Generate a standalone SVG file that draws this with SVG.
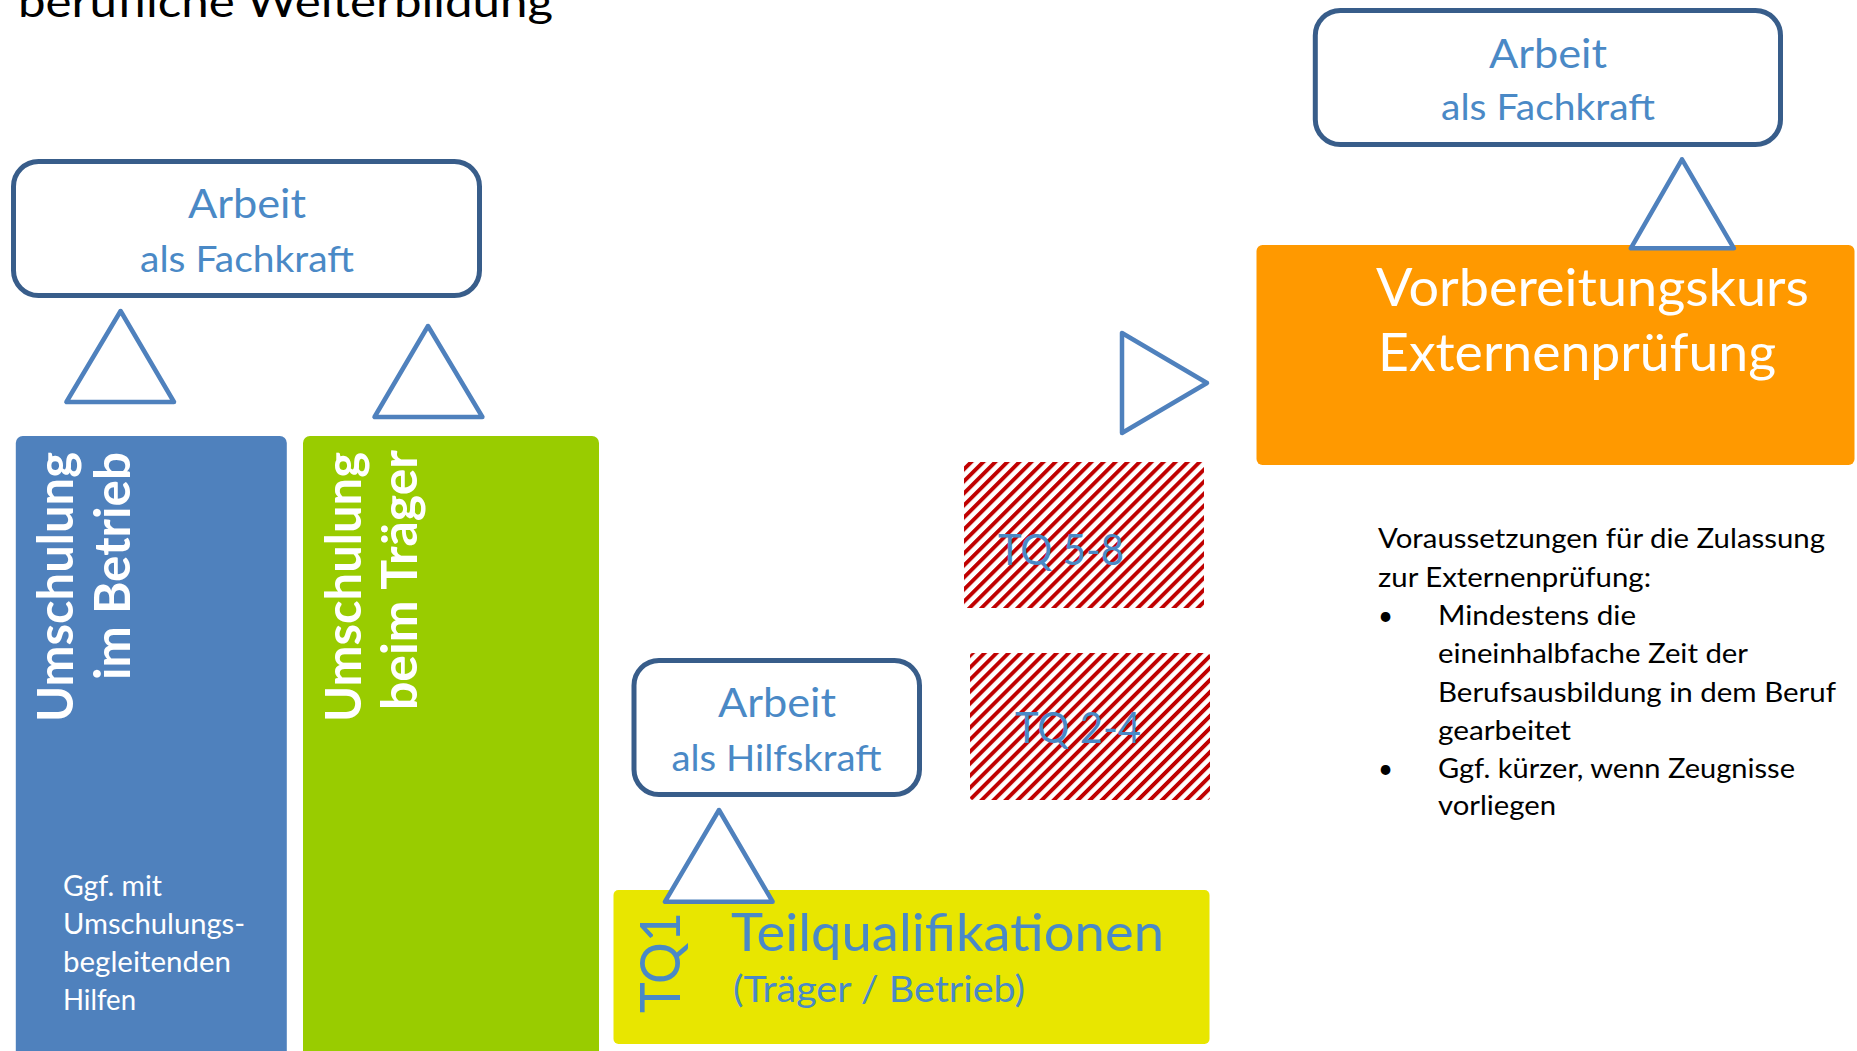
<svg xmlns="http://www.w3.org/2000/svg" width="1857" height="1051" viewBox="0 0 1857 1051">
<style>
text { font-family: Lato, "Open Sans", "Liberation Sans", sans-serif; }
.box { fill: #ffffff; stroke: #385D8A; stroke-width: 5; }
.tri { fill: #ffffff; stroke: #4F81BD; stroke-width: 4.5; stroke-linejoin: round; }
.bt { fill: #4A89C6; }
.big { font-size: 40.5px; }
.sub { font-size: 36px; }
.wb { fill: #ffffff; font-weight: bold; font-size: 50px; }
.wn { fill: #ffffff; font-size: 28px; }
.blk { fill: #000000; font-size: 26px; }
.tq { font-size: 42px; }
</style>
<defs>
<pattern id="hatch" patternUnits="userSpaceOnUse" width="8.5" height="8.5" patternTransform="rotate(45)">
<rect x="0" y="0" width="8.5" height="8.5" fill="#ffffff"/>
<rect x="0" y="0" width="3.9" height="8.5" fill="#C00000"/>
</pattern>
</defs>
<rect x="0" y="0" width="1857" height="1051" fill="#ffffff"/>

<g id="title">
<text x="18" y="17" font-size="42" fill="#000000" textLength="535" lengthAdjust="spacingAndGlyphs">berufliche Weiterbildung</text>
</g>

<g id="umschulung-betrieb">
<rect x="15.8" y="436" width="271" height="640" rx="7" fill="#4F81BD"/>
<text class="wb" transform="translate(73 452) rotate(-90)" text-anchor="end" textLength="270" lengthAdjust="spacingAndGlyphs">Umschulung</text>
<text class="wb" transform="translate(130 452) rotate(-90)" text-anchor="end" textLength="228" lengthAdjust="spacingAndGlyphs">im Betrieb</text>
<text class="wn" x="63" y="896" textLength="99" lengthAdjust="spacingAndGlyphs">Ggf. mit</text>
<text class="wn" x="63" y="934" textLength="182" lengthAdjust="spacingAndGlyphs">Umschulungs-</text>
<text class="wn" x="63" y="972" textLength="168" lengthAdjust="spacingAndGlyphs">begleitenden</text>
<text class="wn" x="63" y="1010" textLength="73" lengthAdjust="spacingAndGlyphs">Hilfen</text>
</g>

<g id="umschulung-traeger">
<rect x="303" y="436" width="296" height="640" rx="7" fill="#99CC00"/>
<text class="wb" transform="translate(361 452) rotate(-90)" text-anchor="end" textLength="270" lengthAdjust="spacingAndGlyphs">Umschulung</text>
<text class="wb" transform="translate(417 450) rotate(-90)" text-anchor="end" textLength="260" lengthAdjust="spacingAndGlyphs">beim Träger</text>
</g>

<g id="teilqualifikationen">
<rect x="613.5" y="890" width="596" height="154" rx="5" fill="#E8E600"/>
<text class="bt" font-size="56" transform="translate(680 1013) rotate(-90)" textLength="101" lengthAdjust="spacingAndGlyphs">TQ1</text>
<text class="bt" x="731" y="951" font-size="53" textLength="433" lengthAdjust="spacingAndGlyphs">Teilqualifikationen</text>
<text class="bt" x="733" y="1002" font-size="36" textLength="292" lengthAdjust="spacingAndGlyphs">(Träger / Betrieb)</text>
</g>

<g id="tq-5-8">
<rect x="964" y="462" width="240" height="146" rx="3" fill="url(#hatch)"/>
<text class="bt tq" x="998" y="565" textLength="126" lengthAdjust="spacingAndGlyphs">TQ 5-8</text>
</g>

<g id="tq-2-4">
<rect x="970" y="653" width="240" height="147" rx="3" fill="url(#hatch)"/>
<text class="bt tq" x="1015" y="743" textLength="126" lengthAdjust="spacingAndGlyphs">TQ 2-4</text>
</g>

<g id="arbeit-fachkraft-links">
<rect class="box" x="13.5" y="161.5" width="466" height="134" rx="25"/>
<text class="bt big" x="247" y="218" text-anchor="middle" textLength="118" lengthAdjust="spacingAndGlyphs">Arbeit</text>
<text class="bt sub" x="247" y="272" text-anchor="middle" textLength="214" lengthAdjust="spacingAndGlyphs">als Fachkraft</text>
</g>

<g id="arbeit-hilfskraft">
<rect class="box" x="634" y="660.5" width="285.5" height="134" rx="25"/>
<text class="bt big" x="777" y="717" text-anchor="middle" textLength="118" lengthAdjust="spacingAndGlyphs">Arbeit</text>
<text class="bt sub" x="776.5" y="771" text-anchor="middle" textLength="210" lengthAdjust="spacingAndGlyphs">als Hilfskraft</text>
</g>

<g id="vorbereitungskurs">
<rect x="1256.5" y="245" width="598" height="220" rx="6" fill="#FF9900"/>
<text x="1376" y="306" font-size="52.5" fill="#ffffff" textLength="433" lengthAdjust="spacingAndGlyphs">Vorbereitungskurs</text>
<text x="1378" y="371" font-size="52.5" fill="#ffffff" textLength="398" lengthAdjust="spacingAndGlyphs">Externenprüfung</text>
</g>

<g id="arbeit-fachkraft-rechts">
<rect class="box" x="1315.3" y="10.5" width="465.2" height="134" rx="25"/>
<text class="bt big" x="1548" y="68" text-anchor="middle" textLength="118" lengthAdjust="spacingAndGlyphs">Arbeit</text>
<text class="bt sub" x="1548" y="120" text-anchor="middle" textLength="214" lengthAdjust="spacingAndGlyphs">als Fachkraft</text>
</g>

<g id="voraussetzungen">
<text class="blk" x="1378" y="548" textLength="447" lengthAdjust="spacingAndGlyphs">Voraussetzungen für die Zulassung</text>
<text class="blk" x="1378" y="587" textLength="273" lengthAdjust="spacingAndGlyphs">zur Externenprüfung:</text>
<text class="blk" x="1378" y="625">•</text>
<text class="blk" x="1438" y="625" textLength="198" lengthAdjust="spacingAndGlyphs">Mindestens die</text>
<text class="blk" x="1438" y="663" textLength="310" lengthAdjust="spacingAndGlyphs">eineinhalbfache Zeit der</text>
<text class="blk" x="1438" y="702" textLength="398" lengthAdjust="spacingAndGlyphs">Berufsausbildung in dem Beruf</text>
<text class="blk" x="1438" y="740" textLength="133" lengthAdjust="spacingAndGlyphs">gearbeitet</text>
<text class="blk" x="1378" y="778">•</text>
<text class="blk" x="1438" y="778" textLength="357" lengthAdjust="spacingAndGlyphs">Ggf. kürzer, wenn Zeugnisse</text>
<text class="blk" x="1438" y="815" textLength="118" lengthAdjust="spacingAndGlyphs">vorliegen</text>
</g>

<g id="connectors">
<polygon class="tri" points="120.6,311 66.4,402 174,402"/>
<polygon class="tri" points="428,326 374.5,417 482.4,417"/>
<polygon class="tri" points="719,810 665,901.7 772.6,901.7"/>
<polygon class="tri" points="1122,333 1122,433 1207,383"/>
<polygon class="tri" points="1682,159.3 1630.8,248.3 1733.9,248.3"/>
</g>
</svg>
